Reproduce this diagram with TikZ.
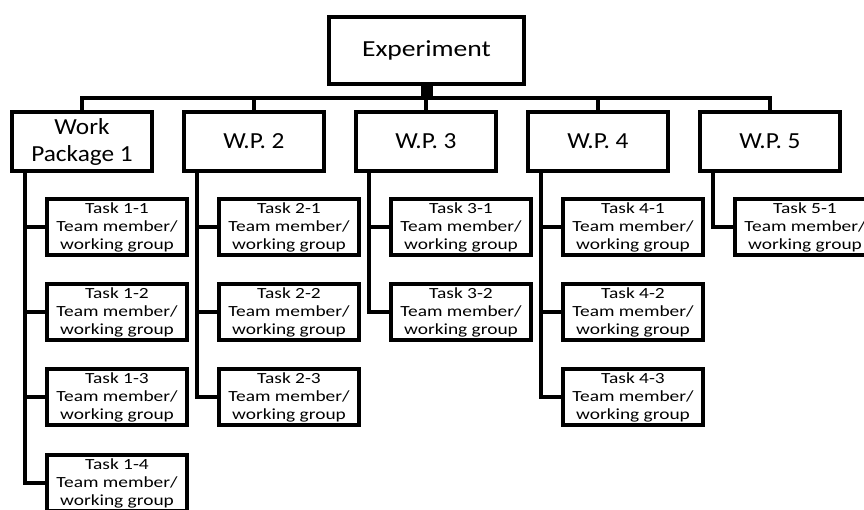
\documentclass[tikz,border=0pt]{standalone}
\usepackage{fontspec}
\setmainfont{Carlito}
\newfontfamily\topfont[FakeStretch=1.2]{Carlito}
\newfontfamily\wpfont[FakeStretch=1.1]{Carlito}
\newfontfamily\taskfont[FakeStretch=1.25]{Carlito}

\begin{document}
\begin{tikzpicture}[x=1pt, y=-1pt]
		
		% Setup the styles for the boxes
		\tikzset{top style/.style={draw, rectangle,
				line width=4pt,
				minimum width=195pt, minimum height=67pt,
				font=\topfont\fontsize{23}{27}\selectfont},
			wp style/.style={draw, rectangle,
				line width=4pt,
				minimum width=140pt, minimum height=59pt,
				align=center, inner sep=1pt,
				font=\wpfont\fontsize{23}{27}\selectfont},
			task style/.style={draw, rectangle,
				line width=4pt,
				minimum width=140pt, minimum height=56pt,
				align=center, inner sep=0pt,
				font=\taskfont\fontsize{15.5}{18}\selectfont},
			link/.style={line width=4pt}}
		
		\useasboundingbox (0, 0) rectangle (864, 509);
		
		% Draw the top box and the work packages
		\node[top style] at (426.5, 50.5) (exp) {Experiment};
		\node[wp style] at (82, 141.5)  (wp1) {Work\\Package 1};
		\node[wp style] at (254, 141.5) (wp2) {W.P. 2};
		\node[wp style] at (426, 141.5) (wp3) {W.P. 3};
		\node[wp style] at (598, 141.5) (wp4) {W.P. 4};
		\node[wp style] at (770, 141.5) (wp5) {W.P. 5};
		\coordinate (bus) at (426.5, 98);
		
		% Draw the tasks
		\node[task style] at (117, 227) (t11) {Task 1-1\\Team member/\\working group};
		\node[task style] at (117, 312) (t12) {Task 1-2\\Team member/\\working group};
		\node[task style] at (117, 397) (t13) {Task 1-3\\Team member/\\working group};
		\node[task style] at (117, 483) (t14) {Task 1-4\\Team member/\\working group};
		\node[task style] at (289, 227) (t21) {Task 2-1\\Team member/\\working group};
		\node[task style] at (289, 312) (t22) {Task 2-2\\Team member/\\working group};
		\node[task style] at (289, 397) (t23) {Task 2-3\\Team member/\\working group};
		\node[task style] at (461, 227) (t31) {Task 3-1\\Team member/\\working group};
		\node[task style] at (461, 312) (t32) {Task 3-2\\Team member/\\working group};
		\node[task style] at (633, 227) (t41) {Task 4-1\\Team member/\\working group};
		\node[task style] at (633, 312) (t42) {Task 4-2\\Team member/\\working group};
		\node[task style] at (633, 397) (t43) {Task 4-3\\Team member/\\working group};
		\node[task style] at (805, 227) (t51) {Task 5-1\\Team member/\\working group};
		
		% Connect the top box with the work packages
		\draw[line width=12pt] (exp.south) -- (bus);
		\draw[link] (wp1.north) |- (bus);
		\draw[link] (wp2.north) |- (bus);
		\draw[link] (wp3.north) |- (bus);
		\draw[link] (wp4.north) |- (bus);
		\draw[link] (wp5.north) |- (bus);
		
		% Connect the work packages with their tasks
		\draw[link] ([xshift=15pt]wp1.south west) |- (t11.west);
		\draw[link] ([xshift=15pt]wp1.south west) |- (t12.west);
		\draw[link] ([xshift=15pt]wp1.south west) |- (t13.west);
		\draw[link] ([xshift=15pt]wp1.south west) |- (t14.west);
		\draw[link] ([xshift=15pt]wp2.south west) |- (t21.west);
		\draw[link] ([xshift=15pt]wp2.south west) |- (t22.west);
		\draw[link] ([xshift=15pt]wp2.south west) |- (t23.west);
		\draw[link] ([xshift=15pt]wp3.south west) |- (t31.west);
		\draw[link] ([xshift=15pt]wp3.south west) |- (t32.west);
		\draw[link] ([xshift=15pt]wp4.south west) |- (t41.west);
		\draw[link] ([xshift=15pt]wp4.south west) |- (t42.west);
		\draw[link] ([xshift=15pt]wp4.south west) |- (t43.west);
		\draw[link] ([xshift=15pt]wp5.south west) |- (t51.west);
		
\end{tikzpicture}
\end{document}
